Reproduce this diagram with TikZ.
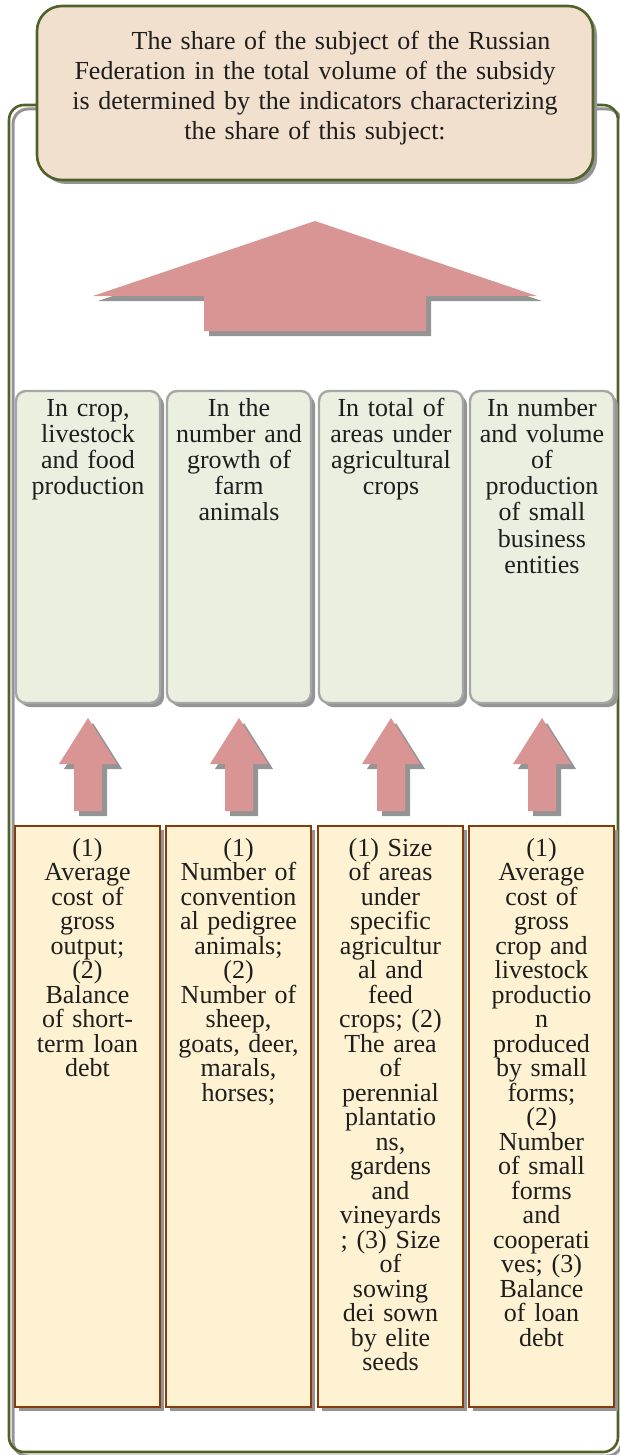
\documentclass[tikz,border=0pt]{standalone}
\usepackage{fontspec}
\setmainfont{Liberation Serif}
\usetikzlibrary{shadows,calc}
\definecolor{peach}{HTML}{F2E0CF}
\definecolor{frameg}{HTML}{4F6228}
\definecolor{midfill}{HTML}{EBEFDF}
\definecolor{midline}{HTML}{A6A6A6}
\definecolor{lowfill}{HTML}{FEF2D2}
\definecolor{lowline}{HTML}{843C0C}
\definecolor{arrowc}{HTML}{D99594}
\definecolor{shadowgray}{HTML}{949494}
\definecolor{ink}{HTML}{1E1E1E}
\tikzset{
  box/.style={draw, inner sep=0pt, outer sep=0pt, anchor=north west},
  shadowed/.style={drop shadow={shadow xshift=4pt, shadow yshift=-4pt, fill=shadowgray, opacity=1}},
  framebox/.style={box, minimum width=609pt, minimum height=1347pt},
  topbox/.style={box, fill=peach, draw=frameg, line width=2.6pt, rounded corners=25pt, minimum width=556pt, minimum height=174pt, shadowed},
  midbox/.style={box, fill=midfill, draw=midline, line width=2.4pt, rounded corners=10pt, minimum width=144pt, minimum height=312pt, shadowed},
  lowbox/.style={box, fill=lowfill, draw=lowline, line width=2.6pt, minimum width=145pt, minimum height=581pt, shadowed},
  txt/.style={text=ink, align=center, inner sep=0pt, anchor=base},
  toptxt/.style={txt, text width=540pt, font=\fontsize{26}{30}\selectfont},
  midtxt/.style={txt, text width=150pt, font=\fontsize{26}{26.2}\selectfont},
  lowtxt/.style={txt, text width=150pt, font=\fontsize{26}{24.5}\selectfont},
  smallup/.pic={
    \fill[shadowgray] (-9,98) -- (-9,51) -- (-24,51) -- (5,5) -- (34,51) -- (19,51) -- (19,98) -- cycle;
    \fill[arrowc] (-14,93) -- (-14,46) -- (-29,46) -- (0,0) -- (29,46) -- (14,46) -- (14,93) -- cycle;
  },
  bigup/.pic={
    \fill[shadowgray] (-106,115) -- (-106,80) -- (-217,80) -- (5,5) -- (227,80) -- (116,80) -- (116,115) -- cycle;
    \fill[arrowc] (-111,110) -- (-111,75) -- (-222,75) -- (0,0) -- (222,75) -- (111,75) -- (111,110) -- cycle;
  },
}
\begin{document}
\begin{tikzpicture}[x=1pt, y=-1pt]
\useasboundingbox (0,0) rectangle (619,1455);

% outer frame and its shadow
\node[framebox, draw=none] (frame) at (9,105) {};
\draw[draw=shadowgray, line width=3pt, rounded corners=15pt]
  ($(frame.north west)+(4,4)$) rectangle ($(frame.south east)+(4,4)$);
\draw[draw=frameg, line width=2.6pt, rounded corners=15pt]
  (frame.north west) rectangle (frame.south east);

% top box
\node[topbox] (top) at (37,6) {};
\node[toptxt] (toptext) at ($(top.north)+(0,44)$)
  {\hspace*{52pt}The share of the subject of the Russian\\
   Federation in the total volume of the subsidy\\
   is determined by the indicators characterizing\\
   the share of this subject:};

% big arrow
\pic at ($(top.south)+(0,41)$) {bigup};

% middle boxes
\node[midbox] (m1) at (16,391) {};
\node[midbox] (m2) at (167,391) {};
\node[midbox] (m3) at (319,391) {};
\node[midbox] (m4) at (470,391) {};
\node[midtxt] (m1t) at ($(m1.north)+(0,25)$) {In crop,\\livestock\\and food\\production};
\node[midtxt] (m2t) at ($(m2.north)+(0,25)$) {In the\\number and\\growth of\\farm\\animals};
\node[midtxt] (m3t) at ($(m3.north)+(0,25)$) {In total of\\areas under\\agricultural\\crops};
\node[midtxt] (m4t) at ($(m4.north)+(0,25)$) {In number\\and volume\\of\\production\\of small\\business\\entities};

% lower boxes
\node[lowbox] (l1) at (15,826) {};
\node[lowbox] (l2) at (166,826) {};
\node[lowbox] (l3) at (318,826) {};
\node[lowbox] (l4) at (469,826) {};

% small arrows
\pic at ($(m1.south)+(0,15)$) {smallup};
\pic at ($(m2.south)+(0,15)$) {smallup};
\pic at ($(m3.south)+(0,15)$) {smallup};
\pic at ($(m4.south)+(0,15)$) {smallup};

\node[lowtxt] (l1t) at ($(l1.north)+(0,30)$) {(1)\\Average\\cost of\\gross\\output;\\(2)\\Balance\\of short-\\term loan\\debt};
\node[lowtxt] (l2t) at ($(l2.north)+(0,30)$) {(1)\\Number of\\convention\\al pedigree\\animals;\\(2)\\Number of\\sheep,\\goats, deer,\\marals,\\horses;};
\node[lowtxt] (l3t) at ($(l3.north)+(0,30)$) {(1) Size\\of areas\\under\\specific\\agricultur\\al and\\feed\\crops; (2)\\The area\\of\\perennial\\plantatio\\ns,\\gardens\\and\\vineyards\\; (3) Size\\of\\sowing\\dei sown\\by elite\\seeds};
\node[lowtxt] (l4t) at ($(l4.north)+(0,30)$) {(1)\\Average\\cost of\\gross\\crop and\\livestock\\productio\\n\\produced\\by small\\forms;\\(2)\\Number\\of small\\forms\\and\\cooperati\\ves; (3)\\Balance\\of loan\\debt};
\end{tikzpicture}
\end{document}
